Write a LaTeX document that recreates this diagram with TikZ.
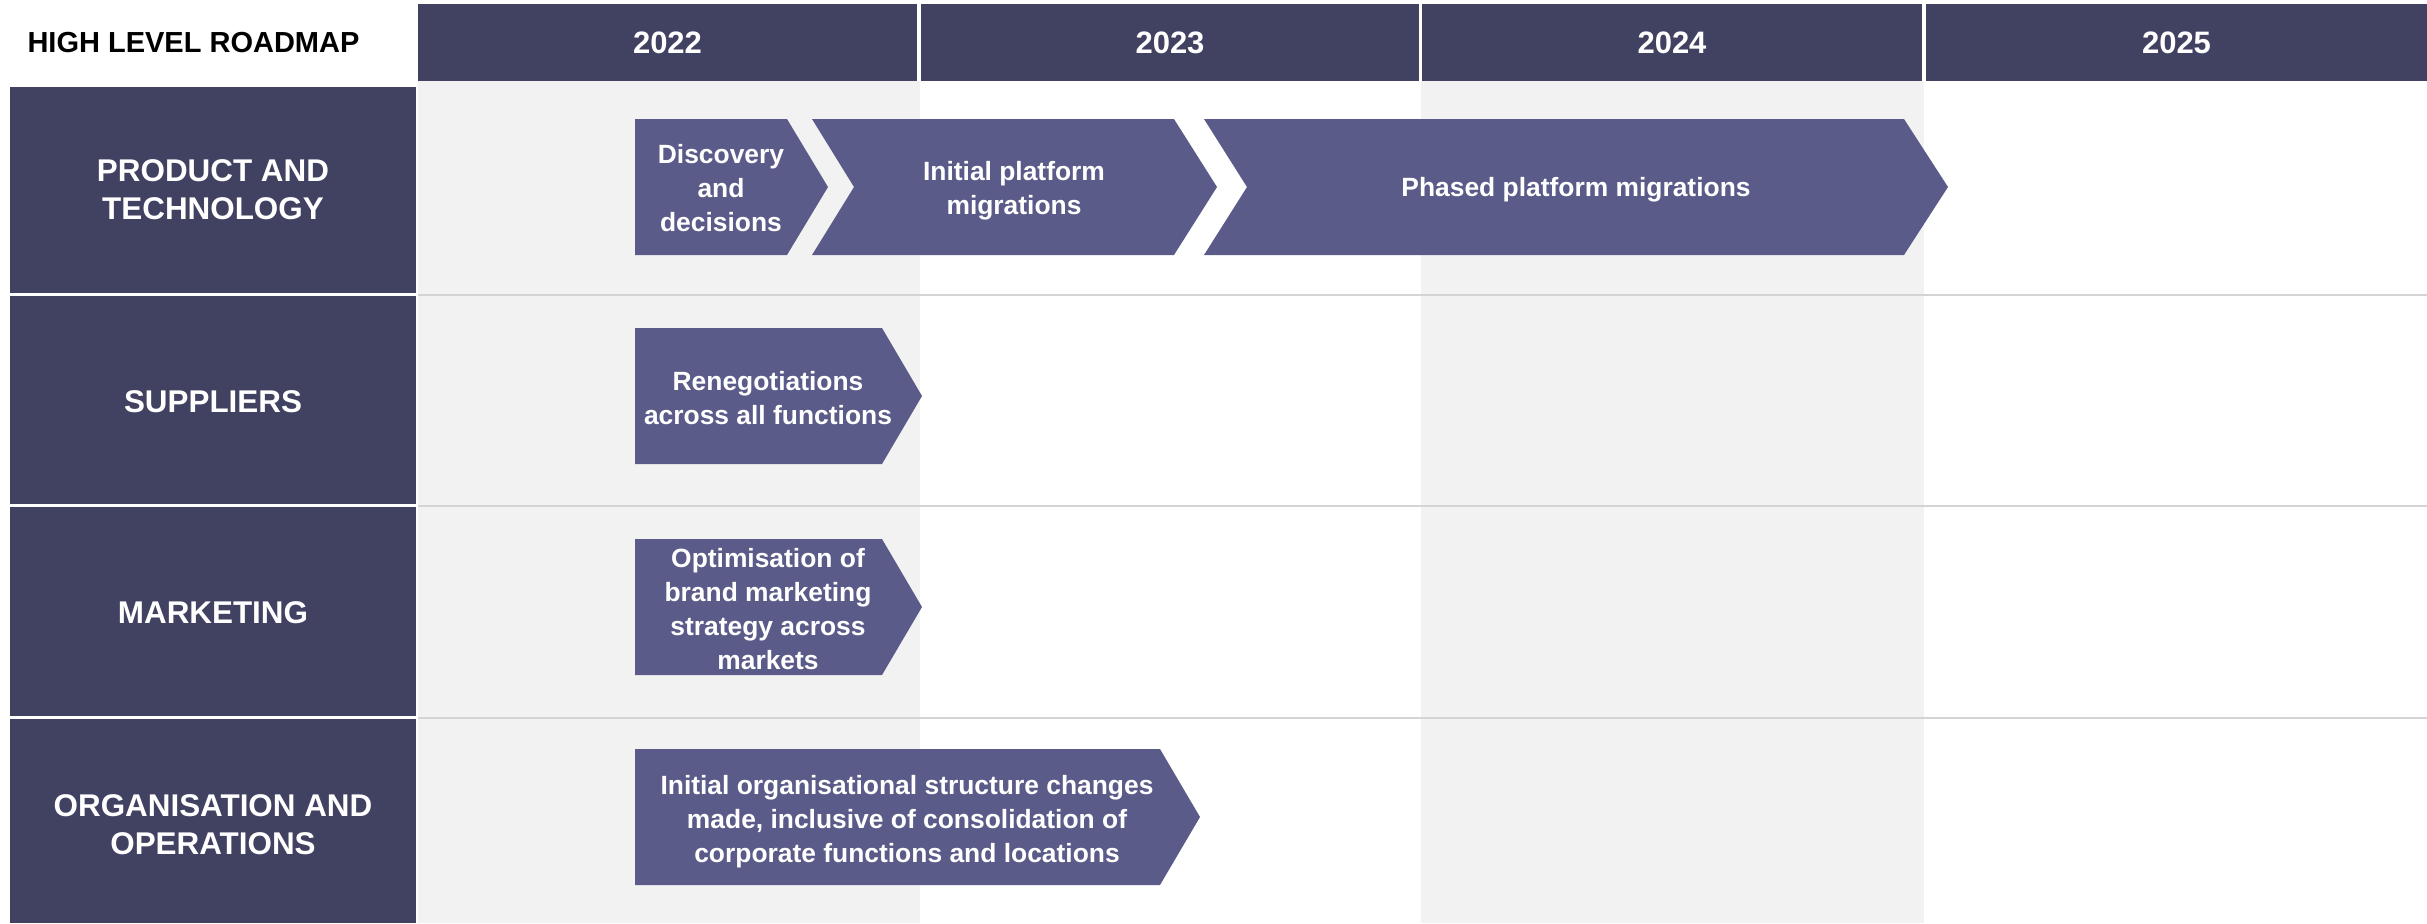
\documentclass[tikz,border=0pt]{standalone}
\usepackage{fontspec}
\setmainfont{Liberation Sans}
\definecolor{navy}{HTML}{414162}
\definecolor{chevfill}{HTML}{5B5B8A}
\definecolor{band}{HTML}{F2F2F2}
\definecolor{rulegray}{HTML}{D4D4D4}
\begin{document}
\begin{tikzpicture}[x=0.5pt,y=-0.5pt,
  hdrbox/.style={fill=navy},
  chev/.style={fill=chevfill},
  yeartext/.style={text=white,font=\bfseries\fontsize{15.5}{19}\selectfont},
  rowtext/.style={text=white,align=center,font=\bfseries\fontsize{15.7}{19}\selectfont},
  chevtext/.style={text=white,align=center,font=\bfseries\fontsize{13.2}{17}\selectfont},
  titletext/.style={text=black,font=\bfseries\fontsize{14.5}{18}\selectfont}]
\useasboundingbox (0,0) rectangle (2427,923);
\fill[white] (0,0) rectangle (2427,923);

% shaded year columns
\fill[band] (418,81) rectangle (920,923);
\fill[band] (1421,81) rectangle (1924,923);

% row separators
\foreach \yy in {294.5,505.5,717.5}
  \draw[rulegray,line width=1pt] (418,\yy) -- (2427,\yy);

% title and year headers
\node[titletext] (title) at (193.5,43) {HIGH LEVEL ROADMAP};
\fill[hdrbox] (418,4) rectangle (917,81);
\fill[hdrbox] (921,4) rectangle (1419,81);
\fill[hdrbox] (1422,4) rectangle (1922,81);
\fill[hdrbox] (1926,4) rectangle (2427,81);
\node[yeartext] (y2022) at (667.5,42.5) {2022};
\node[yeartext] (y2023) at (1170,42.5) {2023};
\node[yeartext] (y2024) at (1672,42.5) {2024};
\node[yeartext] (y2025) at (2176.5,42.5) {2025};

% row headers
\fill[hdrbox] (10,87) rectangle (416,293);
\fill[hdrbox] (10,296) rectangle (416,504);
\fill[hdrbox] (10,507) rectangle (416,716);
\fill[hdrbox] (10,719) rectangle (416,923);
\node[rowtext] (rprod) at (213,190) {PRODUCT AND\\TECHNOLOGY};
\node[rowtext] (rsupp) at (213,402) {SUPPLIERS};
\node[rowtext] (rmark) at (213,613) {MARKETING};
\node[rowtext] (rorg) at (213,825) {ORGANISATION AND\\OPERATIONS};

% product and technology chevrons
\fill[chev] (635,119) -- (787,119) -- (828,187) -- (787,255) -- (635,255) -- cycle;
\fill[chev] (812,119) -- (1174,119) -- (1217,187) -- (1174,255) -- (812,255) -- (854,187) -- cycle;
\fill[chev] (1204,119) -- (1904,119) -- (1948,187) -- (1904,255) -- (1204,255) -- (1247,187) -- cycle;
\node[chevtext] (disc) at (721,188) {Discovery\\and\\decisions};
\node[chevtext] (initp) at (1014,191) {Initial platform\\migrations};
\node[chevtext] (phased) at (1576,190) {Phased platform migrations};

% suppliers
\fill[chev] (635,328) -- (882,328) -- (922,396) -- (882,464) -- (635,464) -- cycle;
\node[chevtext] (reneg) at (768,398) {Renegotiations\\across all functions};

% marketing
\fill[chev] (635,539) -- (882,539) -- (922,607) -- (882,675) -- (635,675) -- cycle;
\node[chevtext] (optim) at (768,609) {Optimisation of\\brand marketing\\strategy across\\markets};

% organisation and operations
\fill[chev] (635,749) -- (1160,749) -- (1200,817) -- (1160,885) -- (635,885) -- cycle;
\node[chevtext] (orgch) at (907,822) {Initial organisational structure changes\\made, inclusive of consolidation of\\corporate functions and locations};
\end{tikzpicture}
\end{document}
